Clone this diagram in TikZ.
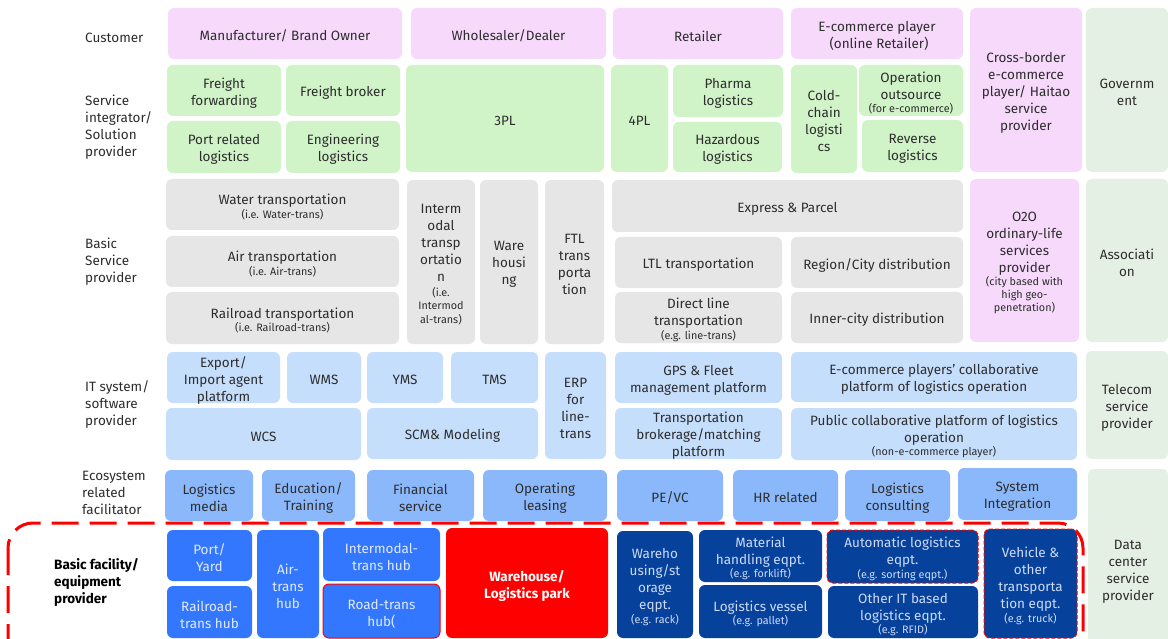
\documentclass[tikz,border=0pt]{standalone}
\usepackage{fontspec}
\setmainfont{Fira Sans}
\definecolor{pinkc}{RGB}{247,217,252}
\definecolor{greenc}{RGB}{208,243,200}
\definecolor{greyc}{RGB}{230,230,230}
\definecolor{ltbluec}{RGB}{197,222,252}
\definecolor{midbluec}{RGB}{138,184,250}
\definecolor{brbluec}{RGB}{51,119,255}
\definecolor{dkbluec}{RGB}{6,66,156}
\definecolor{sidec}{RGB}{229,240,228}
\definecolor{txtc}{RGB}{45,45,45}
\definecolor{brtxtc}{RGB}{225,235,255}
\definecolor{dktxtc}{RGB}{205,218,245}
\definecolor{redc}{RGB}{255,0,0}
\newcommand\mainsz{\fontsize{13.5}{17}\selectfont}
\newcommand\subsz{\fontsize{10.8}{11}\selectfont}
\newcommand\bxx[7]{%
  \node[cell,#6,minimum width={(#4-#2)*1pt},minimum height={(#5-#3)*1pt}] (#1) at ({(#2+#4)/2},{(#3+#5)/2}) {};
  \node[cell,#6,fill=none,draw=none,minimum width=0pt,minimum height=0pt] (#1t) at ([yshift=-2.5pt]#1.center) {#7};}
\begin{document}
\begin{tikzpicture}[x=1pt,y=-1pt,
  cell/.style={rounded corners=6pt,inner sep=1pt,outer sep=0pt,align=center,text=txtc,font=\mainsz},
  pinkbox/.style={fill=pinkc},
  greenbox/.style={fill=greenc},
  greybox/.style={fill=greyc},
  ltbox/.style={fill=ltbluec},
  midbox/.style={fill=midbluec},
  brbox/.style={fill=brbluec,text=brtxtc},
  dkbox/.style={fill=dkbluec,text=dktxtc},
  sidebox/.style={fill=sidec},
  redsolid/.style={draw=redc,line width=1pt},
  reddash/.style={draw=redc,line width=1pt,dash pattern=on 4pt off 2pt},
  rowlabel/.style={anchor=west,align=left,text=txtc,font=\mainsz,inner sep=0pt}]
\clip (0,0) rectangle (1168,639);
\fill[white] (0,0) rectangle (1168,639);
% row labels
\node[rowlabel] (lcust) at (85,37.5) {Customer};
\node[rowlabel] (lserv) at (85,127.5) {Service\\integrator/\\Solution\\provider};
\node[rowlabel] (lbasic) at (85,262) {Basic\\Service\\provider};
\node[rowlabel] (lit) at (85,404) {IT system/\\software\\provider};
\node[rowlabel] (leco) at (82,492.5) {Ecosystem\\related\\facilitator};
\node[rowlabel,font=\mainsz\bfseries,text=black] (lfac) at (54,582) {Basic facility/\\equipment\\provider};
% customer row
\bxx{cm}{168}{8}{402}{59}{pinkbox}{Manufacturer/ Brand Owner}
\bxx{cw}{411}{8}{606}{59}{pinkbox}{Wholesaler/Dealer}
\bxx{cr}{613}{8}{783}{59}{pinkbox}{Retailer}
\bxx{ce}{791}{8}{963}{59}{pinkbox}{E-commerce player\\\hspace*{4pt}(online Retailer)}
\bxx{cb}{970}{8}{1082}{172}{pinkbox}{Cross-border\\e-commerce\\player/ Haitao\\service\\provider}
\bxx{gov}{1086}{8}{1168}{172}{sidebox}{Governm\\ent}
% service integrator row
\bxx{ff}{167}{65}{281}{116}{greenbox}{Freight\\forwarding}
\bxx{fb}{286}{65}{400}{116}{greenbox}{Freight broker}
\bxx{pr}{167}{121}{281}{173}{greenbox}{Port related\\logistics}
\bxx{el}{286}{121}{400}{173}{greenbox}{Engineering\\logistics}
\bxx{tpl}{406}{65}{604}{172}{greenbox}{3PL}
\bxx{fpl}{611}{65}{668}{172}{greenbox}{4PL}
\bxx{ph}{673}{65}{783}{117}{greenbox}{Pharma\\logistics}
\bxx{hz}{673}{122}{782}{172}{greenbox}{Hazardous\\logistics}
\bxx{cc}{791}{65}{857}{173}{greenbox}{Cold-\\chain\\logisti\\cs}
\bxx{oo}{859}{65}{963}{116}{greenbox}{Operation\\outsource\\[-3.5pt]\subsz (for e-commerce)}
\bxx{rv}{862}{120}{963}{172}{greenbox}{Reverse\\logistics}
% basic service row
\bxx{wt}{166}{179}{399}{230}{greybox}{Water transportation\\[-3.5pt]\subsz (i.e. Water-trans)}
\bxx{at}{166}{236}{399}{287}{greybox}{Air transportation\\[-3.5pt]\subsz (i.e. Air-trans)}
\bxx{rt}{166}{292}{399}{344}{greybox}{Railroad transportation\\[-3.5pt]\subsz (i.e. Railroad-trans)}
\bxx{im}{407}{180}{475}{344}{greybox}{Interm\\odal\\transp\\ortatio\\n\\[-2pt]\subsz (i.e.\\[-3.5pt]\subsz Intermod\\[-3.5pt]\subsz al-trans)}
\bxx{wh}{480}{180}{538}{344}{greybox}{Ware\\housi\\ng}
\bxx{ftl}{545}{180}{604}{344}{greybox}{FTL\\trans\\porta\\tion}
\bxx{ep}{612}{180}{963}{232}{greybox}{Express \& Parcel}
\bxx{ltl}{615}{237}{782}{288}{greybox}{LTL transportation}
\bxx{rc}{791}{237}{963}{288}{greybox}{Region/City distribution}
\bxx{dl}{615}{292}{782}{343}{greybox}{Direct line\\transportation\\[-3.5pt]\subsz (e.g. line-trans)}
\bxx{ic}{791}{292}{963}{343}{greybox}{Inner-city distribution}
\bxx{oto}{970}{179}{1079}{342}{pinkbox}{O2O\\ordinary-life\\services\\provider\\[-3.5pt]\subsz (city based with\\[-4pt]\subsz high geo-\\[-4pt]\subsz penetration)}
\bxx{asso}{1086}{179}{1168}{342}{sidebox}{Associati\\on}
% IT row
\bxx{ex}{167}{352}{280}{403}{ltbox}{Export/\\Import agent\\platform}
\bxx{wms}{287}{352}{361}{403}{ltbox}{WMS}
\bxx{yms}{367}{352}{443}{403}{ltbox}{YMS}
\bxx{tms}{451}{352}{538}{403}{ltbox}{TMS}
\bxx{erp}{545}{352}{606}{459}{ltbox}{ERP\\for\\line-\\trans}
\bxx{gps}{615}{352}{782}{403}{ltbox}{GPS \& Fleet\\management platform}
\bxx{ecp}{791}{352}{1077}{402}{ltbox}{E-commerce players’ collaborative\\platform of logistics operation}
\bxx{wcs}{166}{408}{361}{460}{ltbox}{WCS}
\bxx{scm}{367}{408}{538}{459}{ltbox}{SCM\& Modeling}
\bxx{tb}{615}{408}{782}{459}{ltbox}{Transportation\\brokerage/matching\\platform}
\bxx{pc}{791}{408}{1077}{460}{ltbox}{Public collaborative platform of logistics\\operation\\[-3.5pt]\subsz (non-e-commerce player)}
\bxx{tel}{1086}{351}{1168}{459}{sidebox}{Telecom\\service\\provider}
% ecosystem row
\bxx{lm}{165}{470}{253}{521}{midbox}{Logistics\\media}
\bxx{ed}{262}{470}{355}{521}{midbox}{Education/\\Training}
\bxx{fs}{367}{470}{474}{521}{midbox}{Financial\\service}
\bxx{ol}{483}{470}{607}{521}{midbox}{Operating\\leasing}
\bxx{pe}{617}{470}{723}{521}{midbox}{PE/VC}
\bxx{hr}{733}{470}{838}{521}{midbox}{HR related}
\bxx{lc}{845}{470}{950}{521}{midbox}{Logistics\\consulting}
\bxx{si}{958}{468}{1077}{520}{midbox}{System\\Integration}
\bxx{dc}{1088}{469}{1168}{670}{sidebox}{Data\\center\\service\\provider}
% basic facility row
\bxx{py}{167}{530}{252}{581}{brbox}{Port/\\Yard}
\bxx{rh}{167}{586}{252}{638}{brbox}{Railroad-\\trans hub}
\bxx{ah}{257}{530}{319}{638}{brbox}{Air-\\trans\\hub}
\bxx{ih}{323}{528}{440}{581}{brbox}{Intermodal-\\trans hub}
\bxx{road}{323}{584}{440}{638}{brbox,redsolid}{Road-trans\\hub(}
\bxx{wl}{446}{528}{608}{638}{fill=redc,text=white,font=\mainsz\bfseries}{Warehouse/\\Logistics park}
\bxx{ws}{617}{531}{693}{638}{dkbox}{Wareho\\using/st\\orage\\eqpt.\\[-3.5pt]\subsz (e.g. rack)}
\bxx{mh}{699}{530}{822}{582}{dkbox}{Material\\handling eqpt.\\[-3.5pt]\subsz (e.g. forklift)}
\bxx{lv}{699}{585}{822}{638}{dkbox}{Logistics vessel\\[-3.5pt]\subsz (e.g. pallet)}
\bxx{al}{827}{530}{978}{583}{dkbox,reddash}{Automatic logistics\\eqpt.\\[-3.5pt]\subsz (e.g. sorting eqpt.)}
\bxx{ot}{828}{586}{978}{638}{dkbox}{Other IT based\\logistics eqpt.\\[-3.5pt]\subsz (e.g. RFID)}
\bxx{vh}{984}{529}{1077}{638}{dkbox,reddash}{Vehicle \&\\other\\transporta\\tion eqpt.\\[-3.5pt]\subsz (e.g. truck)}
% highlight frame
\draw[redc,line width=3pt,dash pattern=on 27pt off 11pt,rounded corners=25pt] (8,523) rectangle (1083,690);
\end{tikzpicture}
\end{document}
